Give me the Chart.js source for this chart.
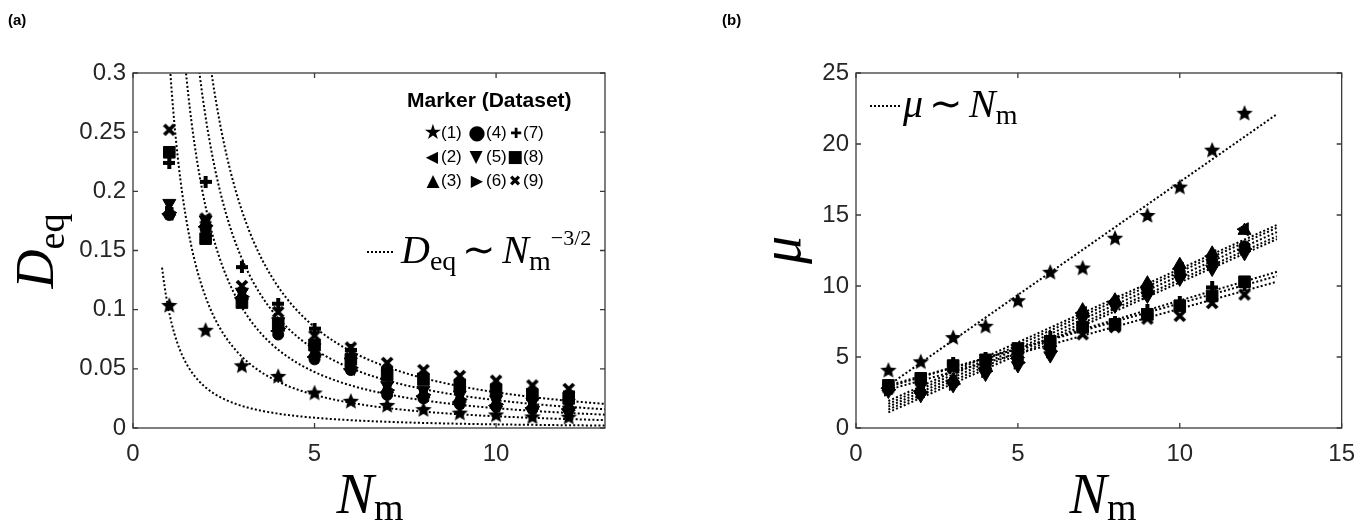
<!DOCTYPE html>
<html>
<head>
<meta charset="utf-8">
<title>D_eq and mu versus N_m</title>
<script src="https://cdn.jsdelivr.net/npm/chart.js@4.4.1/dist/chart.umd.min.js"></script>
<style>
  html, body { margin: 0; padding: 0; background: #fff; }
  #page { position: relative; width: 1367px; height: 520px; overflow: hidden; background: #fff; }
  .panel { position: absolute; top: 0; height: 520px; }
  #panelA { left: 0; width: 660px; }
  #panelB { left: 683px; width: 684px; }
  #labels { position: absolute; left: 0; top: 0; pointer-events: none; }
  .sans { font-family: 'Liberation Sans', Arial, sans-serif; fill: #000; }
  .serif { font-family: 'Liberation Serif', 'Times New Roman', serif; fill: #000; }
  .sym { font-family: 'DejaVu Sans', sans-serif; fill: #000; }
</style>
</head>
<body>
<div id="page">
  <div class="panel" id="panelA"><canvas id="chartA"></canvas></div>
  <div class="panel" id="panelB"><canvas id="chartB"></canvas></div>

  <svg id="labels" width="1367" height="520">
    <!-- panel tags -->
    <text class="sans" x="8" y="25" font-size="15" font-weight="bold">(a)</text>
    <text class="sans" x="722" y="25" font-size="15" font-weight="bold">(b)</text>

    <!-- axis titles -->
    <text class="serif" transform="translate(53,251) rotate(-90)" text-anchor="middle" font-size="54"><tspan font-style="italic">D</tspan><tspan font-size="38" dy="11">eq</tspan></text>
    <text class="serif" x="370" y="513" text-anchor="middle" font-size="56"><tspan font-style="italic">N</tspan><tspan font-size="38" dy="7">m</tspan></text>
    <text class="serif" transform="translate(800,250) rotate(-90)" text-anchor="middle" font-size="56" font-style="italic">μ</text>
    <text class="serif" x="1103" y="513" text-anchor="middle" font-size="56"><tspan font-style="italic">N</tspan><tspan font-size="38" dy="7">m</tspan></text>

    <!-- marker key, panel (a) -->
    <text class="sans" x="407" y="107" font-size="21" font-weight="bold">Marker (Dataset)</text>
    <g font-size="17">
      <text class="sym" x="433" y="139" text-anchor="middle" font-size="21">★</text><text class="sans" x="441" y="138">(1)</text>
      <text class="sym" x="477" y="139" text-anchor="middle" font-size="20">●</text><text class="sans" x="486" y="138">(4)</text>
      <text class="sym" x="516" y="138" text-anchor="middle" font-size="14">✚</text><text class="sans" x="523" y="138">(7)</text>
      <text class="sym" x="432" y="162" text-anchor="middle" font-size="16">◀</text><text class="sans" x="441" y="162">(2)</text>
      <text class="sym" x="476" y="162" text-anchor="middle" font-size="17">▼</text><text class="sans" x="486" y="162">(5)</text>
      <text class="sym" x="515" y="162" text-anchor="middle" font-size="17">■</text><text class="sans" x="523" y="162">(8)</text>
      <text class="sym" x="433" y="186" text-anchor="middle" font-size="17">▲</text><text class="sans" x="441" y="186">(3)</text>
      <text class="sym" x="477" y="186" text-anchor="middle" font-size="16">▶</text><text class="sans" x="486" y="186">(6)</text>
      <text class="sym" x="515" y="186" text-anchor="middle" font-size="15">✖</text><text class="sans" x="523" y="186">(9)</text>
    </g>

    <!-- fit keys -->
    <line x1="367" y1="252" x2="395" y2="252" stroke="#000" stroke-width="2" stroke-dasharray="2 2"/>
    <text class="serif" x="401" y="263" font-size="40"><tspan font-style="italic">D</tspan><tspan font-size="28" dy="7">eq</tspan><tspan dx="6" dy="-7">∼</tspan><tspan dx="6" font-style="italic">N</tspan><tspan font-size="28" dy="7">m</tspan><tspan font-size="22" dy="-25">−3/2</tspan></text>
    <line x1="870" y1="106" x2="900" y2="106" stroke="#000" stroke-width="2" stroke-dasharray="2 2"/>
    <text class="serif" x="903" y="117" font-size="40"><tspan font-style="italic">μ</tspan><tspan dx="6">∼</tspan><tspan dx="6" font-style="italic">N</tspan><tspan font-size="28" dy="7">m</tspan></text>
  </svg>
</div>

<script>
// N_m of every measured point (both panels)
const nm = [1, 2, 3, 4, 5, 6, 7, 8, 9, 10, 11, 12];

// (a) D_eq, datasets 1..9
const deq1 = [0.104, 0.083, 0.053, 0.044, 0.030, 0.023, 0.0195, 0.016, 0.013, 0.0115, 0.0098, 0.0096];
const deq2 = [0.181, 0.170, 0.110, 0.082, 0.060, 0.050, 0.030, 0.027, 0.022, 0.019, 0.017, 0.016];
const deq3 = [0.183, 0.173, 0.112, 0.085, 0.063, 0.052, 0.033, 0.029, 0.025, 0.021, 0.019, 0.018];
const deq4 = [0.180, 0.168, 0.108, 0.079, 0.058, 0.049, 0.028, 0.025, 0.020, 0.018, 0.016, 0.015];
const deq5 = [0.190, 0.176, 0.115, 0.090, 0.068, 0.056, 0.036, 0.032, 0.028, 0.024, 0.022, 0.021];
const deq6 = [0.182, 0.171, 0.111, 0.084, 0.062, 0.051, 0.032, 0.028, 0.024, 0.020, 0.018, 0.017];
const deq7 = [0.224, 0.208, 0.136, 0.105, 0.084, 0.066, 0.050, 0.045, 0.040, 0.036, 0.032, 0.030];
const deq8 = [0.233, 0.160, 0.106, 0.088, 0.070, 0.058, 0.045, 0.041, 0.036, 0.032, 0.028, 0.025];
const deq9 = [0.252, 0.177, 0.120, 0.098, 0.078, 0.068, 0.055, 0.049, 0.044, 0.040, 0.036, 0.033];

// (b) mu, datasets 1..9
const mu1 = [4.1, 4.7, 6.4, 7.2, 9.0, 11.0, 11.3, 13.4, 15.0, 17.0, 19.6, 22.2];
const mu2 = [2.8, 2.6, 3.3, 4.2, 4.9, 5.6, 8.1, 8.9, 9.9, 11.2, 12.1, 14.0];
const mu3 = [2.9, 2.7, 3.4, 4.4, 5.2, 6.0, 8.3, 9.0, 10.2, 11.5, 12.3, 13.9];
const mu4 = [2.8, 2.5, 3.2, 4.1, 4.8, 5.7, 8.0, 8.8, 9.7, 11.0, 11.8, 12.8];
const mu5 = [2.6, 2.3, 3.0, 3.8, 4.4, 5.1, 7.7, 8.6, 9.3, 10.5, 11.2, 12.3];
const mu6 = [2.7, 2.5, 3.1, 4.0, 4.6, 5.4, 7.9, 8.7, 9.5, 10.8, 11.6, 12.6];
const mu7 = [3.0, 3.4, 4.6, 4.9, 5.5, 6.4, 7.3, 7.5, 8.3, 8.9, 9.9, 10.1];
const mu8 = [3.0, 3.5, 4.4, 4.8, 5.6, 6.1, 7.1, 7.3, 8.0, 8.6, 9.3, 10.3];
const mu9 = [2.8, 3.3, 4.2, 4.6, 5.2, 5.8, 6.6, 7.1, 7.7, 7.9, 8.8, 9.4];

// marker of each dataset, in legend order (1)..(9)
const markers = ['star', 'triLeft', 'triUp', 'circle', 'triDown', 'triRight', 'plus', 'square', 'cross'];

// (a) fits D_eq = c * N_m^(-3/2), drawn from N_m = 0.8 to 13
const deqFitCoef = [0.097, 0.313, 0.529, 0.743, 0.954];
const deqFitRange = [0.8, 13];

// (b) linear fits mu ~ N_m, end values at N_m = 1 and 13
const muFitNm = [1, 13];
const muFitStart = [3.0, 1.9, 1.7, 1.5, 1.3, 1.1, 2.9, 3.0, 2.7];
const muFitEnd = [22.1, 14.3, 14.1, 13.8, 13.5, 13.3, 11.0, 10.7, 10.3];

// ticks
const xTicksA = [0, 5, 10];
const yTicksA = [0, 0.05, 0.1, 0.15, 0.2, 0.25, 0.3];
const xTicksB = [0, 5, 10, 15];
const yTicksB = [0, 5, 10, 15, 20, 25];

const AXIS = '#3a3a3a';
const TICK_TEXT = '#262626';

// filled marker images
function starImage(r) {
    const s = Math.ceil(r * 2 + 2);
    const c = document.createElement('canvas');
    c.width = c.height = s;
    const g = c.getContext('2d');
    g.translate(s / 2, s / 2 + r * 0.1);
    g.beginPath();
    for (let i = 0; i < 10; i++) {
        const rad = i % 2 ? r * 0.45 : r;
        const a = -Math.PI / 2 + i * Math.PI / 5;
        g.lineTo(rad * Math.cos(a), rad * Math.sin(a));
    }
    g.closePath();
    g.fillStyle = '#000';
    g.fill();
    return c;
}

function plusImage(s, t) {
    const c = document.createElement('canvas');
    c.width = c.height = s;
    const g = c.getContext('2d');
    g.fillStyle = '#000';
    g.fillRect((s - t) / 2, 0, t, s);
    g.fillRect(0, (s - t) / 2, s, t);
    return c;
}

function crossImage(s, t) {
    const c = document.createElement('canvas');
    c.width = c.height = s;
    const g = c.getContext('2d');
    g.strokeStyle = '#000';
    g.lineWidth = t;
    g.beginPath();
    g.moveTo(2, 2); g.lineTo(s - 2, s - 2);
    g.moveTo(s - 2, 2); g.lineTo(2, s - 2);
    g.stroke();
    return c;
}

const starImg = starImage(8.6);
const plusImg = plusImage(12, 4);
const crossImg = crossImage(14, 3.8);

function markerStyle(name) {
    switch (name) {
        case 'star': return { pointStyle: starImg, pointRadius: 8, pointRotation: 0 };
        case 'triLeft': return { pointStyle: 'triangle', pointRadius: 7.5, pointRotation: -90 };
        case 'triUp': return { pointStyle: 'triangle', pointRadius: 7.5, pointRotation: 0 };
        case 'triDown': return { pointStyle: 'triangle', pointRadius: 7.5, pointRotation: 180 };
        case 'triRight': return { pointStyle: 'triangle', pointRadius: 7.5, pointRotation: 90 };
        case 'circle': return { pointStyle: 'circle', pointRadius: 5.5, pointRotation: 0 };
        case 'square': return { pointStyle: 'rect', pointRadius: 8.2, pointRotation: 0 };
        case 'plus': return { pointStyle: plusImg, pointRadius: 6, pointRotation: 0 };
        case 'cross': return { pointStyle: crossImg, pointRadius: 7, pointRotation: 0 };
    }
}

function markerDataset(values, i) {
    return Object.assign({
        label: '(' + (i + 1) + ')',
        data: nm.map((x, k) => ({ x: x, y: values[k] })),
        showLine: false,
        pointBackgroundColor: '#000',
        pointBorderColor: '#000',
        pointBorderWidth: 1,
        order: 0
    }, markerStyle(markers[i]));
}

function fitDataset(points) {
    return {
        type: 'line',
        data: points,
        showLine: true,
        borderColor: '#000',
        borderWidth: 2,
        borderDash: [2, 2.2],
        pointRadius: 0,
        tension: 0,
        fill: false,
        order: 1
    };
}

// D_eq ~ N_m^(-3/2) curve for a fitted prefactor
function powerFit(c) {
    const pts = [];
    for (let x = deqFitRange[0]; x <= deqFitRange[1] + 1e-9; x += 0.05) {
        pts.push({ x: x, y: c * Math.pow(x, -1.5) });
    }
    return pts;
}

// box round the axes, with ticks pointing inward on all four sides
const boxPlugin = {
    id: 'box',
    afterDraw(chart) {
        const { ctx, chartArea: a, scales } = chart;
        const len = 5;
        ctx.save();
        ctx.strokeStyle = AXIS;
        ctx.lineWidth = 1.3;
        ctx.strokeRect(a.left, a.top, a.right - a.left, a.bottom - a.top);
        ctx.beginPath();
        scales.x.ticks.forEach(t => {
            const px = scales.x.getPixelForValue(t.value);
            ctx.moveTo(px, a.bottom); ctx.lineTo(px, a.bottom - len);
            ctx.moveTo(px, a.top); ctx.lineTo(px, a.top + len);
        });
        scales.y.ticks.forEach(t => {
            const py = scales.y.getPixelForValue(t.value);
            ctx.moveTo(a.left, py); ctx.lineTo(a.left + len, py);
            ctx.moveTo(a.right, py); ctx.lineTo(a.right - len, py);
        });
        ctx.stroke();
        ctx.restore();
    }
};

function axisOptions(cfg) {
    const font = { family: "'Liberation Sans', Arial, sans-serif", size: 24 };
    return {
        responsive: true,
        maintainAspectRatio: false,
        animation: false,
        layout: { padding: { top: 73, right: cfg.rightPad, left: 0, bottom: 0 } },
        plugins: { legend: { display: false }, tooltip: { enabled: false }, title: { display: false } },
        scales: {
            x: {
                type: 'linear',
                position: 'bottom',
                min: 0,
                max: cfg.xMax,
                grid: { display: false, drawTicks: false },
                border: { display: false },
                afterBuildTicks: axis => { axis.ticks = cfg.xTicks.map(v => ({ value: v })); },
                afterFit: axis => { axis.height = 92; },
                ticks: { font: font, color: TICK_TEXT, padding: 12, maxRotation: 0, callback: v => String(v) }
            },
            y: {
                type: 'linear',
                min: 0,
                max: cfg.yMax,
                grid: { display: false, drawTicks: false },
                border: { display: false },
                afterBuildTicks: axis => { axis.ticks = cfg.yTicks.map(v => ({ value: v })); },
                afterFit: axis => { axis.width = cfg.yWidth; },
                ticks: { font: font, color: TICK_TEXT, padding: 7, callback: v => String(parseFloat(v.toFixed(2))) }
            }
        }
    };
}

const deqSeries = [deq1, deq2, deq3, deq4, deq5, deq6, deq7, deq8, deq9];
const muSeries = [mu1, mu2, mu3, mu4, mu5, mu6, mu7, mu8, mu9];

new Chart(document.getElementById('chartA'), {
    type: 'scatter',
    data: {
        datasets: deqSeries.map(markerDataset)
            .concat(deqFitCoef.map(c => fitDataset(powerFit(c))))
    },
    options: axisOptions({ xMax: 13, yMax: 0.3, xTicks: xTicksA, yTicks: yTicksA, yWidth: 133, rightPad: 55 }),
    plugins: [boxPlugin]
});

new Chart(document.getElementById('chartB'), {
    type: 'scatter',
    data: {
        datasets: muSeries.map(markerDataset)
            .concat(muFitStart.map((s, i) => fitDataset([
                { x: muFitNm[0], y: s },
                { x: muFitNm[1], y: muFitEnd[i] }
            ])))
    },
    options: axisOptions({ xMax: 15, yMax: 25, xTicks: xTicksB, yTicks: yTicksB, yWidth: 173, rightPad: 17 }),
    plugins: [boxPlugin]
});
</script>
</body>
</html>
